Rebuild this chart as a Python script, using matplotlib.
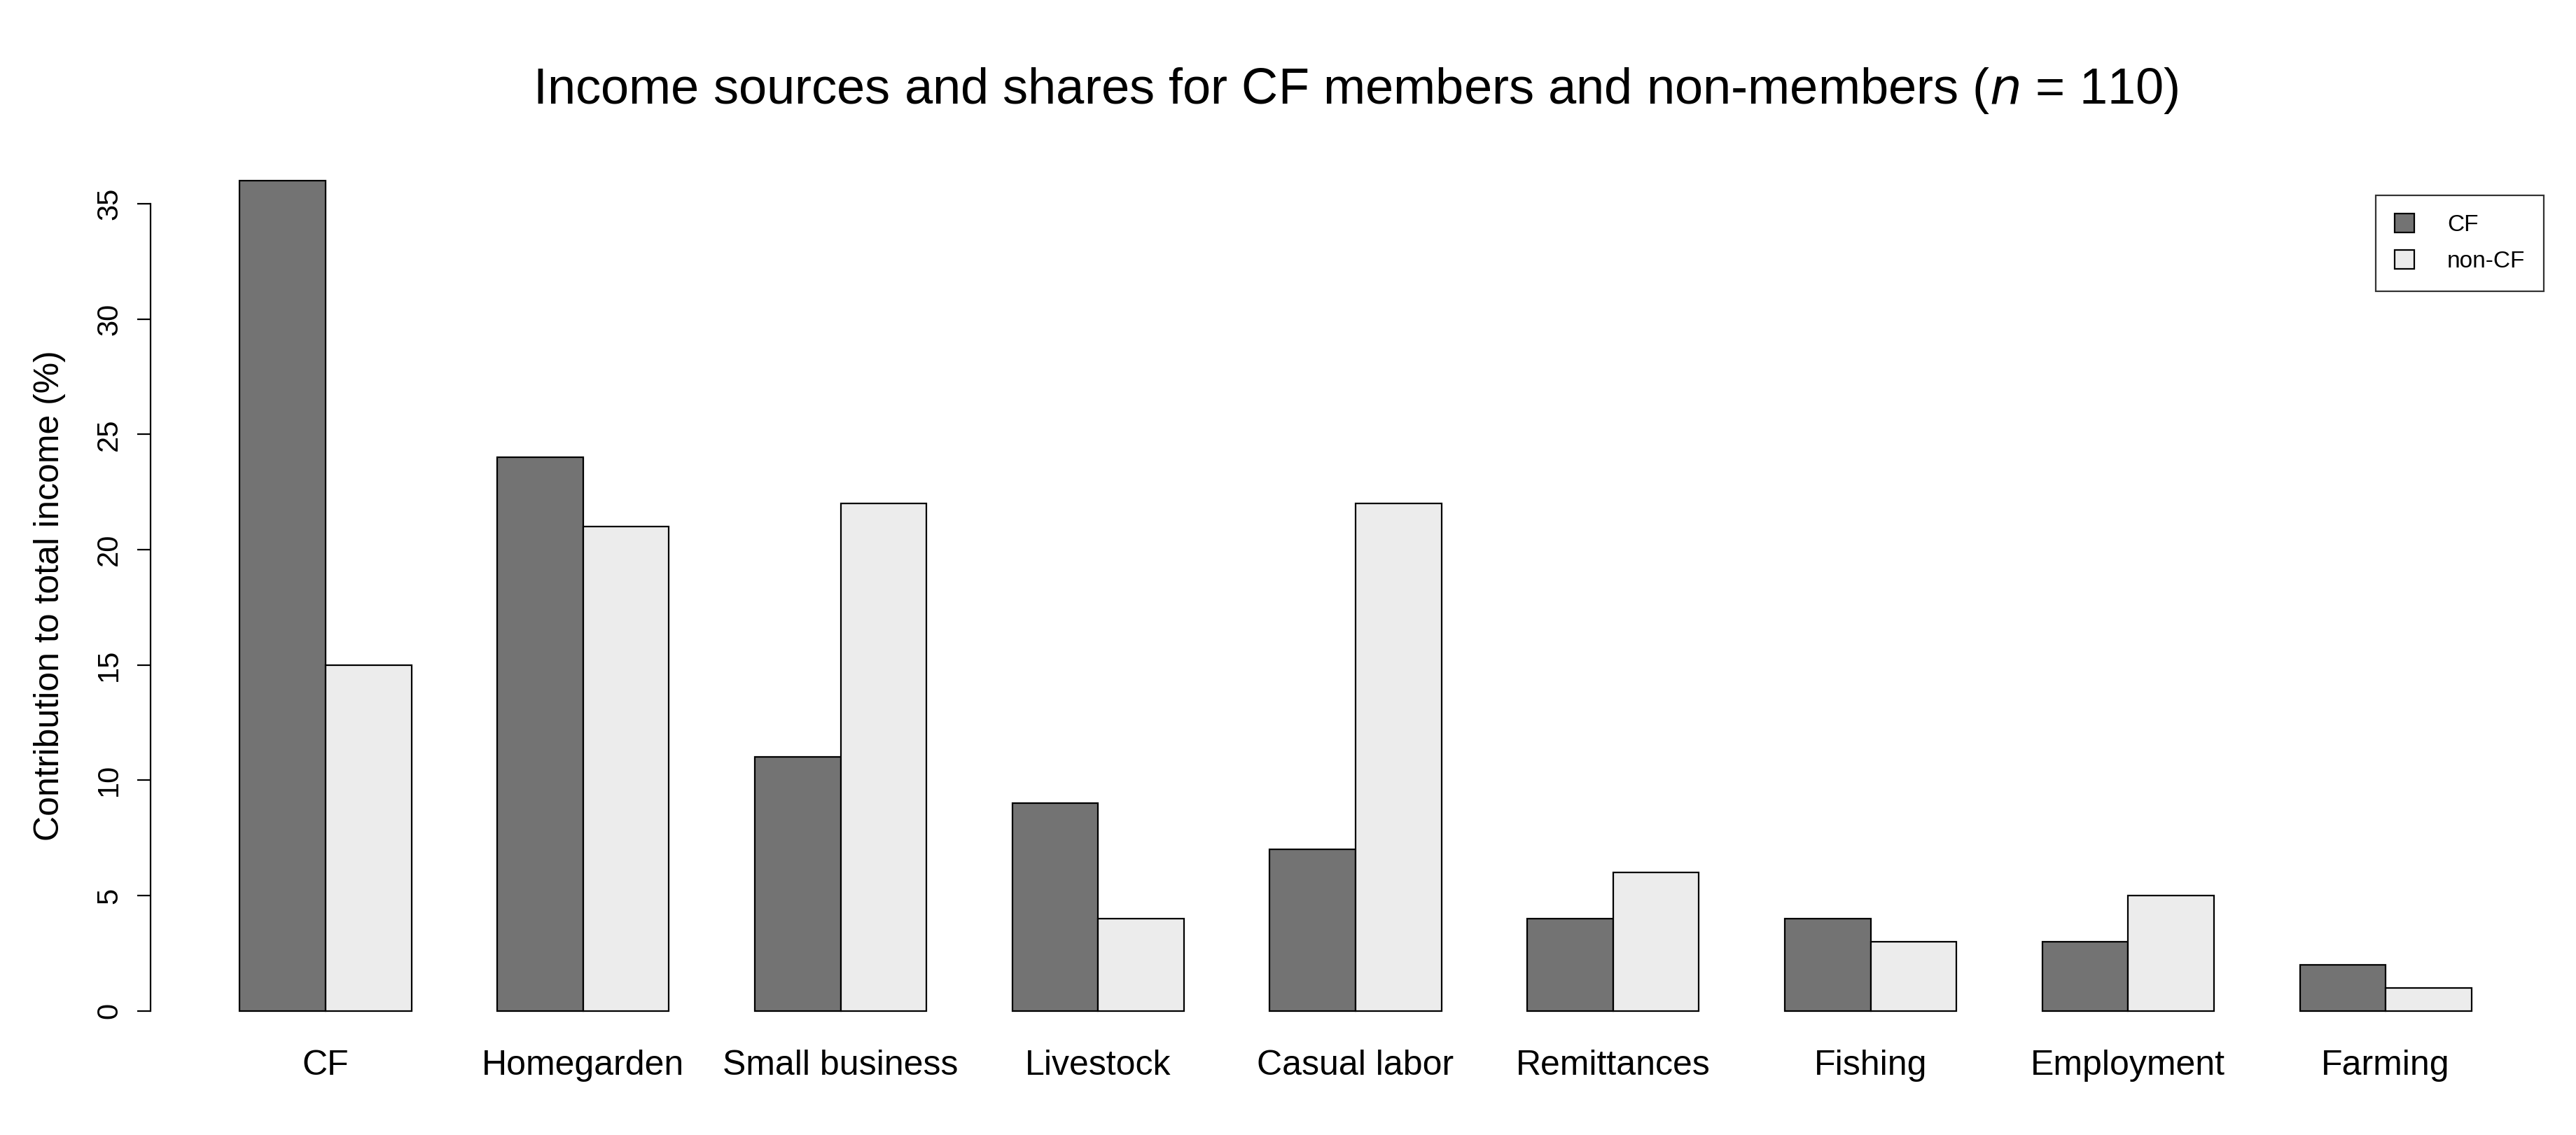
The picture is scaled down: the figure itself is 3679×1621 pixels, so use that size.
import numpy as np
import matplotlib.pyplot as plt

plt.rcParams['font.family'] = ['Liberation Sans', 'DejaVu Sans']

sources = ["CF", "Homegarden", "Small business", "Livestock", "Casual labor",
           "Remittances", "Fishing", "Employment", "Farming"]
cf = [36, 24, 11, 9, 7, 4, 4, 3, 2]
non_cf = [15, 21, 22, 4, 22, 6, 3, 5, 1]

fig = plt.figure(figsize=(36.8, 16.21), dpi=100)
ax = fig.add_axes([0.0584, 0.0802, 0.9938 - 0.0584, 0.870 - 0.0802])

# R style barplot: bars width 1, one unit gap between groups
left = 1 + 3 * np.arange(len(sources))
ax.bar(left, cf, width=1, align='edge', color='#737373', edgecolor='black', linewidth=1.6, label='CF')
ax.bar(left + 1, non_cf, width=1, align='edge', color='#ececec', edgecolor='black', linewidth=1.6, label='non-CF')

ax.set_xlim(1 - 0.04 * 26, 27 + 0.04 * 26)
ax.set_ylim(-0.04 * 36, 36 * 1.04)

for s in ['top', 'right', 'bottom']:
    ax.spines[s].set_visible(False)
ax.spines['left'].set_bounds(0, 35)
ax.spines['left'].set_linewidth(1.6)

ax.set_yticks(np.arange(0, 36, 5))
ax.tick_params(axis='y', length=14, width=1.6, labelsize=30, pad=14)
for t in ax.get_yticklabels():
    t.set_rotation(90)
    t.set_va('center')

ax.set_xticks(left + 1)
ax.set_xticklabels(sources)
ax.tick_params(axis='x', length=0, labelsize=36, pad=6)

ax.set_ylabel("Contribution to total income (%)", fontsize=36, labelpad=30)
ax.set_title("Income sources and shares for CF members and non-members ($\\mathit{n}$ = 110)",
             fontsize=52, pad=45)

leg = ax.legend(loc='upper right', bbox_to_anchor=(0.993, 0.947), borderaxespad=0,
                fontsize=24, frameon=True, fancybox=False, edgecolor='black', borderpad=0.8,
                handlelength=0.85, handleheight=0.85, handletextpad=1.4, labelspacing=0.6)
leg.get_frame().set_linewidth(1.6)

plt.savefig("out.png", dpi=100)
